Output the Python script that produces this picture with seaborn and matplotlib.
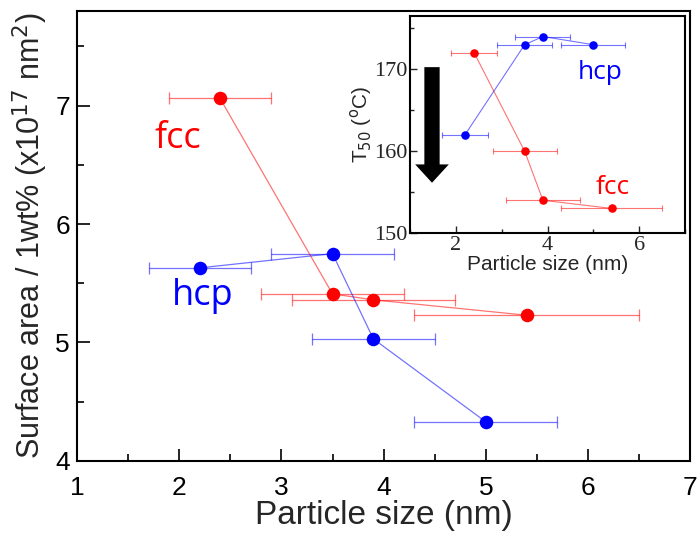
import matplotlib
matplotlib.use("Agg")
import matplotlib.pyplot as plt
import seaborn as sns
import pandas as pd
from matplotlib.ticker import MultipleLocator

sns.set_theme(style="ticks")
plt.rcParams['font.family'] = ['Liberation Sans', 'DejaVu Sans']

# ---- data ----
fcc_size = [2.4, 3.5, 3.9, 5.4]
fcc_size_err = [0.5, 0.7, 0.8, 1.1]
fcc_area = [7.06, 5.41, 5.36, 5.23]
fcc_t50 = [172, 160, 154, 153]

hcp_size = [2.2, 3.5, 3.9, 5.0]
hcp_size_err = [0.5, 0.6, 0.6, 0.7]
hcp_area = [5.63, 5.75, 5.03, 4.33]
hcp_t50 = [162, 173, 174, 173]

RED = "#ff0000"
BLUE = "#0000ff"

fig = plt.figure(figsize=(7.0, 5.41), dpi=100)
ax = fig.add_axes([0.110, 0.148, 0.876, 0.832])

def draw(axx, xs, ys, xerr, color, ms, lw, cap):
    df = pd.DataFrame({"x": xs, "y": ys})
    axx.errorbar(xs, ys, xerr=xerr, fmt="none", ecolor=color, alpha=0.55,
                 elinewidth=lw, capsize=cap, capthick=lw, zorder=2)
    sns.lineplot(data=df, x="x", y="y", ax=axx, sort=False, color=color,
                 linewidth=lw, zorder=3, legend=False)
    axx.lines[-1].set_alpha(0.55)
    sns.scatterplot(data=df, x="x", y="y", ax=axx, color=color, s=ms,
                    edgecolor=color, linewidth=0, zorder=4, legend=False)

draw(ax, fcc_size, fcc_area, fcc_size_err, RED, 95, 0.9, 4.5)
draw(ax, hcp_size, hcp_area, hcp_size_err, BLUE, 95, 0.9, 4.5)

ax.set_xlim(1, 7)
ax.set_ylim(4, 7.8)
ax.xaxis.set_major_locator(MultipleLocator(1))
ax.xaxis.set_minor_locator(MultipleLocator(0.5))
ax.yaxis.set_major_locator(MultipleLocator(1))
ax.yaxis.set_minor_locator(MultipleLocator(0.5))
ax.tick_params(which="both", direction="in", top=False, right=False,
               width=1.2, colors="black")
ax.tick_params(which="major", length=9, labelsize=19)
ax.tick_params(which="minor", length=5)
ax.tick_params(axis="x", which="major", pad=11)
ax.tick_params(axis="y", which="major", pad=5)
for s in ax.spines.values():
    s.set_linewidth(1.5)
    s.set_color("black")
ax.set_xlabel("Particle size (nm)", fontsize=24, labelpad=0)
ax.set_ylabel(r"Surface area / 1wt% (x10$^{17}$ nm$^{2}$)", fontsize=22, labelpad=4)

ax.text(1.99, 6.72, "fcc", color=RED, fontsize=26, ha="center", va="center",
        family=["Open Sans", "DejaVu Sans"])
ax.text(2.23, 5.39, "hcp", color=BLUE, fontsize=26, ha="center", va="center",
        family=["Open Sans", "DejaVu Sans"])

# ---- inset ----
ins = fig.add_axes([0.5857, 0.5693, 0.393, 0.401])
ins.set_facecolor("white")
draw(ins, fcc_size, fcc_t50, fcc_size_err, RED, 38, 0.8, 2.5)
draw(ins, hcp_size, hcp_t50, hcp_size_err, BLUE, 38, 0.8, 2.5)
ins.set_xlim(1, 7)
ins.set_ylim(150, 176.5)
ins.xaxis.set_major_locator(MultipleLocator(2))
ins.xaxis.set_minor_locator(MultipleLocator(1))
ins.yaxis.set_major_locator(MultipleLocator(10))
ins.yaxis.set_minor_locator(MultipleLocator(5))
ins.tick_params(which="both", direction="in", top=False, right=False, width=1.0)
ins.tick_params(which="major", length=5, labelsize=16, pad=2)
ins.tick_params(which="minor", length=3)
for lab in ins.get_xticklabels() + ins.get_yticklabels():
    lab.set_family(['Liberation Serif', 'DejaVu Serif'])
for s in ins.spines.values():
    s.set_linewidth(1.5)
    s.set_color("black")
ins.set_xlabel("Particle size (nm)", fontsize=15, labelpad=0)
ins.set_ylabel(r"T$_{50}$ ($^{\rm o}$C)", fontsize=15, labelpad=0)

ins.text(5.15, 169.6, "hcp", color=BLUE, fontsize=19, ha="center", va="center",
         family=["Open Sans", "DejaVu Sans"])
ins.text(5.43, 155.5, "fcc", color=RED, fontsize=19, ha="center", va="center",
         family=["Open Sans", "DejaVu Sans"])

ins.annotate("", xy=(1.48, 155.8), xytext=(1.48, 170.6),
             arrowprops=dict(arrowstyle="simple,head_length=1.2,head_width=2.2,tail_width=1.0",
                             mutation_scale=11, color="black", lw=0))

fig.savefig("out.png", dpi=100)
